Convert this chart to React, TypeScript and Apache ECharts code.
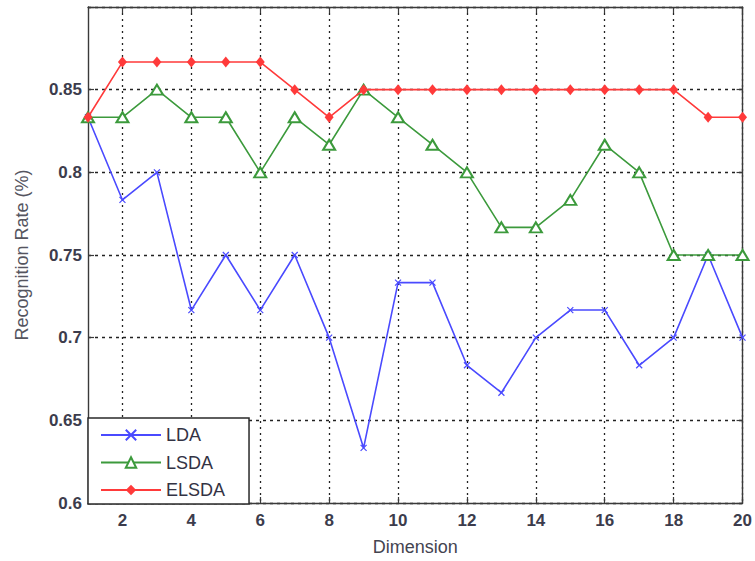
import React, { useEffect, useRef } from "react";
import * as echarts from "echarts";

const dims = [1, 2, 3, 4, 5, 6, 7, 8, 9, 10, 11, 12, 13, 14, 15, 16, 17, 18, 19, 20];
const ldaRates = [0.8333, 0.7833, 0.8, 0.7167, 0.75, 0.7167, 0.75, 0.7, 0.6333, 0.7333, 0.7333, 0.6833, 0.6667, 0.7, 0.7167, 0.7167, 0.6833, 0.7, 0.75, 0.7];
const lsdaRates = [0.8333, 0.8333, 0.85, 0.8333, 0.8333, 0.8, 0.8333, 0.8167, 0.85, 0.8333, 0.8167, 0.8, 0.7667, 0.7667, 0.7833, 0.8167, 0.8, 0.75, 0.75, 0.75];
const elsdaRates = [0.8333, 0.8667, 0.8667, 0.8667, 0.8667, 0.8667, 0.85, 0.8333, 0.85, 0.85, 0.85, 0.85, 0.85, 0.85, 0.85, 0.85, 0.85, 0.85, 0.8333, 0.8333];
const xTickValues = [2, 4, 6, 8, 10, 12, 14, 16, 18, 20];
const seriesNames = ["LDA", "LSDA", "ELSDA"];

const FONT = "'Liberation Sans', Arial, sans-serif";

export default function App() {
  const ref = useRef<HTMLDivElement>(null);
  useEffect(() => {
    if (!ref.current) return;
    const chart = echarts.init(ref.current, null, { renderer: "svg" });
    const pairs = (vals: number[]) => dims.map((d, i) => [d, vals[i]]);
    const axisLine = { show: true, lineStyle: { color: "#3a3a3a", width: 1.4 } };
    const tick = { show: true, inside: true, length: 6, lineStyle: { color: "#3a3a3a", width: 1.2 } };
    const tickLabel = { fontFamily: FONT, fontSize: 17, fontWeight: "bold", color: "#3c3c4c" };
    chart.setOption({
      animation: false,
      textStyle: { fontFamily: FONT },
      grid: { left: 88, right: 12, top: 7, bottom: 58, containLabel: false },
      legend: {
        data: seriesNames,
        orient: "vertical",
        left: 88,
        top: 418,
        itemWidth: 60,
        itemHeight: 13,
        itemGap: 9.5,
        padding: [8, 24, 5, 12],
        backgroundColor: "#ffffff",
        borderColor: "#2a2a2a",
        borderWidth: 1.5,
        borderRadius: 0,
        textStyle: { fontFamily: FONT, fontSize: 18, color: "#333344" },
      },
      xAxis: [
        {
          type: "value",
          min: 1,
          max: 20,
          name: "Dimension",
          nameLocation: "middle",
          nameGap: 35,
          nameTextStyle: { fontFamily: FONT, fontSize: 18, color: "#444450" },
          axisLine,
          axisTick: { ...tick, customValues: xTickValues },
          axisLabel: { customValues: xTickValues, margin: 9, ...tickLabel },
          splitLine: { show: true, lineStyle: { color: "#222", type: [2, 4], width: 1.3 } },
        },
        {
          type: "value",
          position: "top",
          min: 1,
          max: 20,
          axisLine,
          axisTick: { ...tick, customValues: xTickValues },
          axisLabel: { show: false },
          splitLine: { show: false },
        },
      ],
      yAxis: [
        {
          type: "value",
          min: 0.6,
          max: 0.9,
          interval: 0.05,
          name: "Recognition Rate (%)",
          nameLocation: "middle",
          nameGap: 57,
          nameTextStyle: { fontFamily: FONT, fontSize: 18, color: "#55555f" },
          axisLine,
          axisTick: tick,
          axisLabel: {
            margin: 6,
            ...tickLabel,
            formatter: (v: number) => (v > 0.89 ? "" : String(+v.toFixed(2))),
          },
          splitLine: { show: true, lineStyle: { color: "#222", type: [3, 4], width: 1.3 } },
        },
        {
          type: "value",
          position: "right",
          min: 0.6,
          max: 0.9,
          interval: 0.05,
          axisLine,
          axisTick: tick,
          axisLabel: { show: false },
          splitLine: { show: false },
        },
      ],
      series: [
        {
          name: "LDA",
          type: "line",
          data: pairs(ldaRates),
          symbol: "path://M0,0L10,10M10,0L0,10",
          symbolSize: 6,
          lineStyle: { color: "#4a4aff", width: 1.6 },
          itemStyle: { color: "#4a4aff", borderColor: "#4a4aff", borderWidth: 1.2 },
          z: 3,
        },
        {
          name: "LSDA",
          type: "line",
          data: pairs(lsdaRates),
          symbol: "emptyTriangle",
          symbolSize: [12, 10],
          lineStyle: { color: "#3c9a3c", width: 1.6 },
          itemStyle: { color: "#3c9a3c", borderColor: "#3c9a3c", borderWidth: 1.4 },
          z: 4,
        },
        {
          name: "ELSDA",
          type: "line",
          data: pairs(elsdaRates),
          symbol: "diamond",
          symbolSize: [9, 11],
          lineStyle: { color: "#ff3a3a", width: 1.6 },
          itemStyle: { color: "#ff3a3a" },
          z: 5,
        },
      ],
    });
    return () => chart.dispose();
  }, []);
  return <div ref={ref} style={{ width: 755, height: 561, position: "absolute", left: 0, top: 0 }} />;
}
